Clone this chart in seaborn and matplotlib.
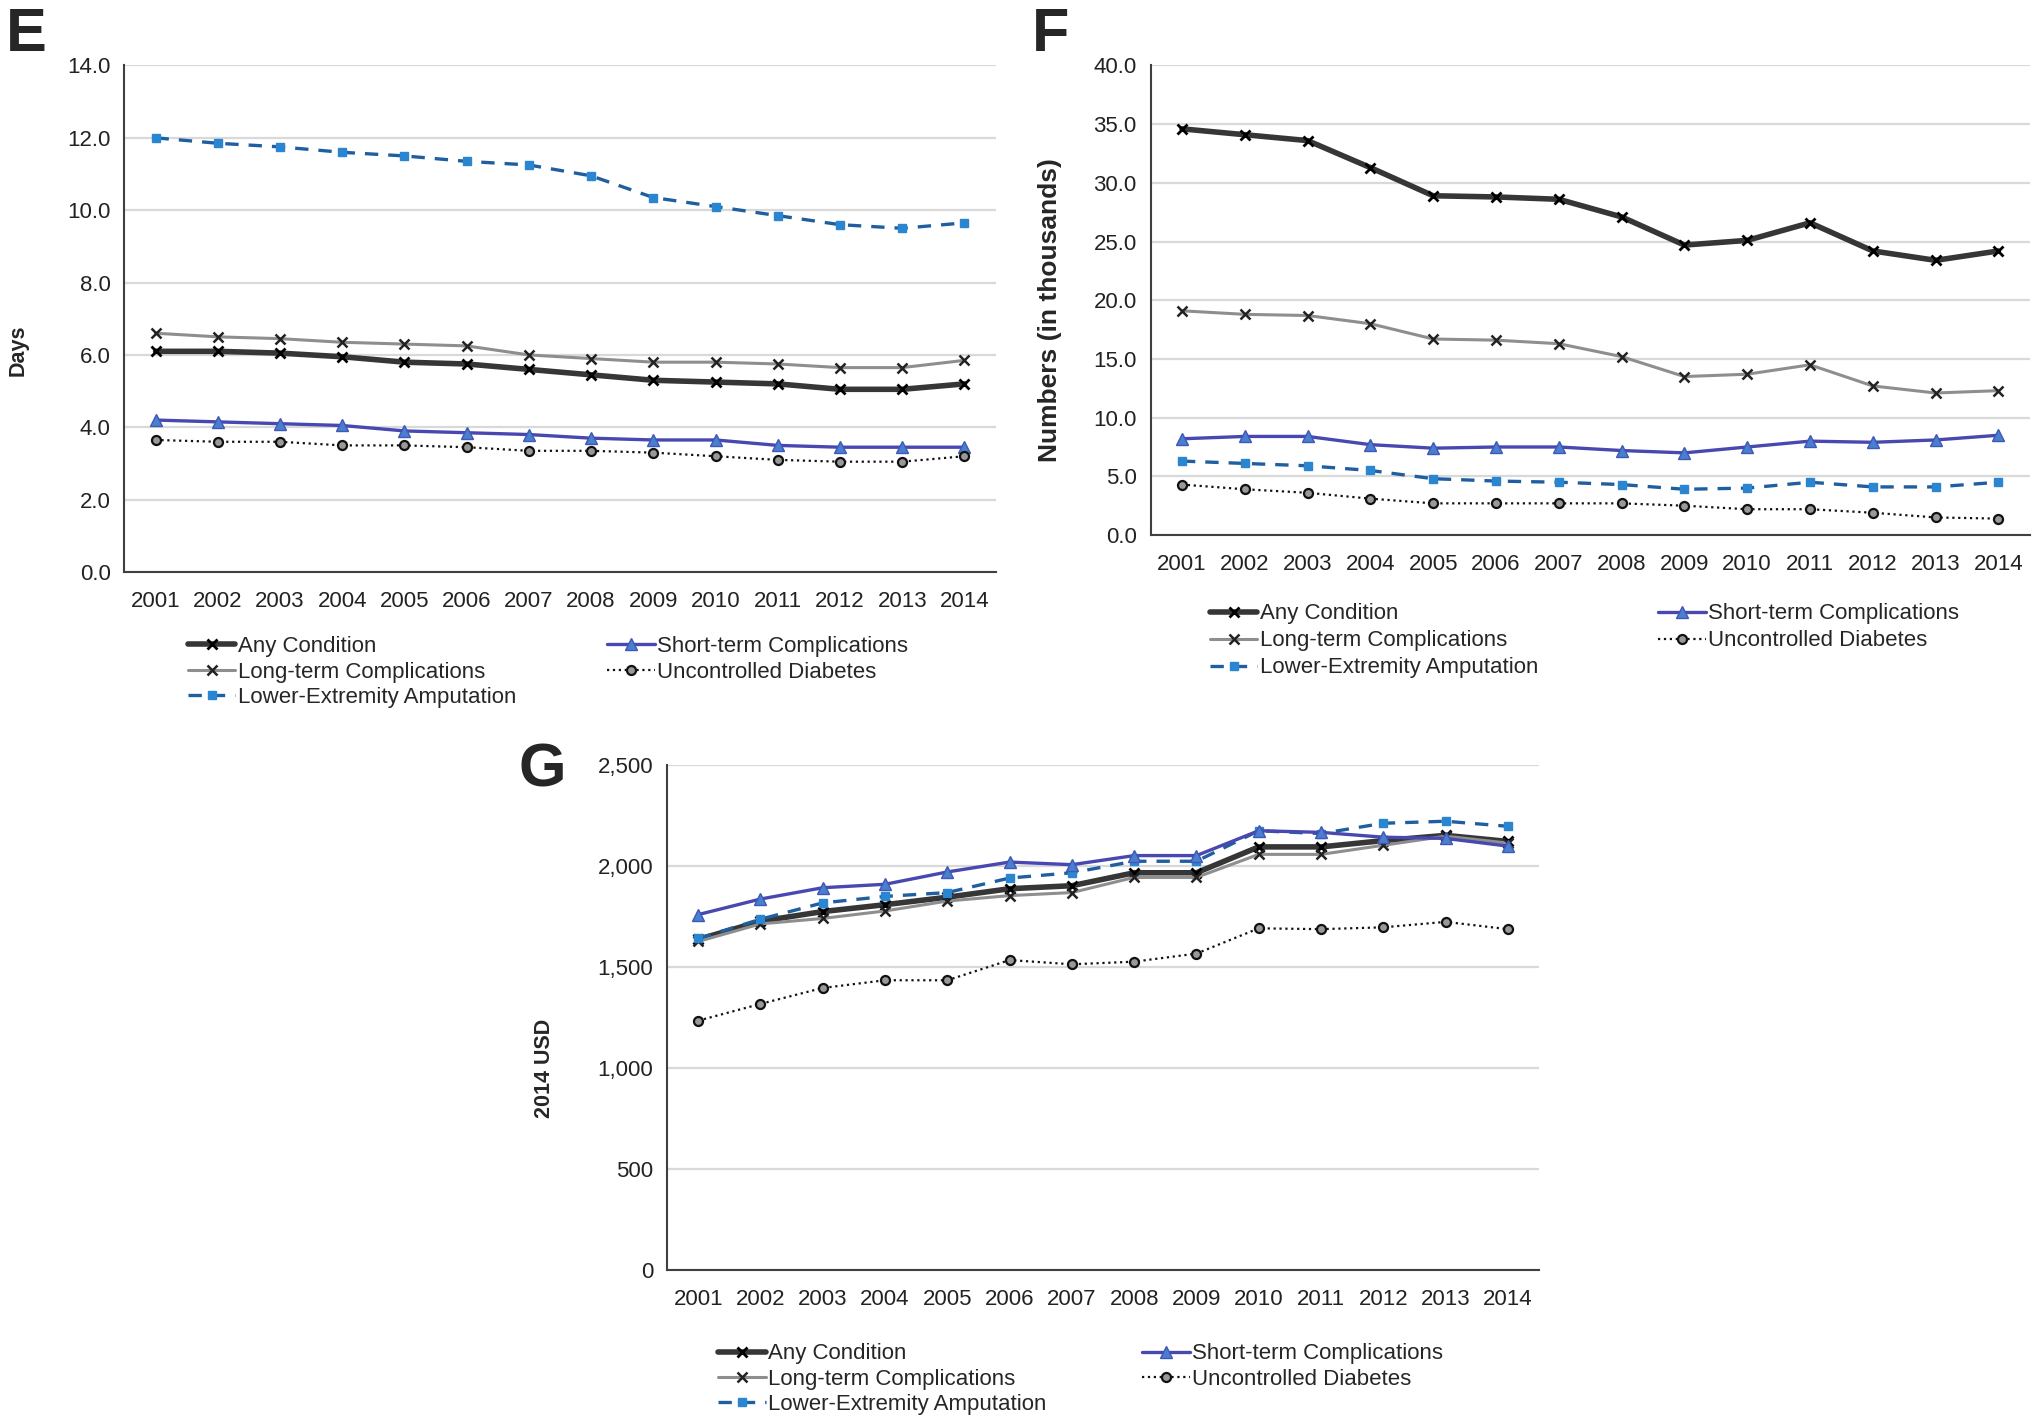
import numpy as np
import pandas as pd
import seaborn as sns
import matplotlib.pyplot as plt
from matplotlib.ticker import FuncFormatter, FixedLocator

sns.set_theme(style="white")
plt.rcParams["font.family"] = ["Liberation Sans", "DejaVu Sans"]

years = [str(y) for y in range(2001, 2015)]
series_names = ["Any Condition", "Long-term Complications", "Lower-Extremity Amputation",
                "Short-term Complications", "Uncontrolled Diabetes"]

# Panel E - length of stay (days)
e_any = [6.1, 6.1, 6.05, 5.95, 5.8, 5.75, 5.6, 5.45, 5.3, 5.25, 5.2, 5.05, 5.05, 5.2]
e_long = [6.6, 6.5, 6.45, 6.35, 6.3, 6.25, 6.0, 5.9, 5.8, 5.8, 5.75, 5.65, 5.65, 5.85]
e_lower = [12.0, 11.85, 11.75, 11.6, 11.5, 11.35, 11.25, 10.95, 10.35, 10.1, 9.85, 9.6, 9.5, 9.65]
e_short = [4.2, 4.15, 4.1, 4.05, 3.9, 3.85, 3.8, 3.7, 3.65, 3.65, 3.5, 3.45, 3.45, 3.45]
e_unc = [3.65, 3.6, 3.6, 3.5, 3.5, 3.45, 3.35, 3.35, 3.3, 3.2, 3.1, 3.05, 3.05, 3.2]

# Panel F - numbers (in thousands)
f_any = [34.6, 34.1, 33.6, 31.3, 28.9, 28.8, 28.6, 27.1, 24.7, 25.1, 26.6, 24.2, 23.4, 24.2]
f_long = [19.1, 18.8, 18.7, 18.0, 16.7, 16.6, 16.3, 15.2, 13.5, 13.7, 14.5, 12.7, 12.1, 12.3]
f_lower = [6.3, 6.1, 5.9, 5.5, 4.8, 4.6, 4.5, 4.3, 3.9, 4.0, 4.5, 4.1, 4.1, 4.5]
f_short = [8.2, 8.4, 8.4, 7.7, 7.4, 7.5, 7.5, 7.2, 7.0, 7.5, 8.0, 7.9, 8.1, 8.5]
f_unc = [4.3, 3.9, 3.6, 3.1, 2.7, 2.7, 2.7, 2.7, 2.5, 2.2, 2.2, 1.9, 1.5, 1.4]

# Panel G - 2014 USD
g_any = [1636, 1726, 1774, 1808, 1845, 1887, 1902, 1966, 1966, 2094, 2094, 2125, 2151, 2121]
g_long = [1626, 1713, 1740, 1777, 1826, 1853, 1868, 1943, 1943, 2057, 2057, 2102, 2147, 2113]
g_lower = [1641, 1736, 1817, 1849, 1868, 1940, 1966, 2023, 2023, 2174, 2160, 2211, 2221, 2196]
g_short = [1759, 1836, 1892, 1909, 1970, 2019, 2006, 2051, 2051, 2174, 2166, 2142, 2136, 2098]
g_unc = [1234, 1317, 1396, 1434, 1434, 1534, 1513, 1526, 1566, 1691, 1687, 1696, 1723, 1687]

styles = {
    "Any Condition": dict(color="#363636", lw=4.0, ls="-", marker="x", ms=6.5, mec="black", mfc="black", mew=2.0),
    "Long-term Complications": dict(color="#8e8e8e", lw=2.2, ls="-", marker="x", ms=6.5, mec="#222222", mfc="black", mew=1.8),
    "Lower-Extremity Amputation": dict(color="#1f5f9f", lw=2.4, ls=(0, (4, 3)), marker="s", ms=6, mec="#2a86d0", mfc="#2a86d0", mew=1),
    "Short-term Complications": dict(color="#4848b0", lw=2.4, ls="-", marker="^", ms=8, mec="#3f57b5", mfc="#4a7fd0", mew=1),
    "Uncontrolled Diabetes": dict(color="#111111", lw=1.6, ls=":", marker="o", ms=6.5, mec="#111111", mfc="#999999", mew=1.6),
}

fig = plt.figure(figsize=(20.4, 14.23), dpi=100)


def draw_panel(rect, data, yticks, fmt, ylabel, ylabel_size, ylabel_xy, legend_xy, colspace, rowspace):
    ax = fig.add_axes(rect)
    df = pd.DataFrame({"year": years * len(data),
                       "value": np.concatenate([data[n] for n in series_names]),
                       "series": np.repeat(series_names, len(years))})
    df["idx"] = np.tile(np.arange(len(years)), len(series_names))
    for name in series_names:
        st = styles[name]
        sub = df[df["series"] == name]
        sns.lineplot(data=sub, x="idx", y="value", ax=ax, color=st["color"], linewidth=st["lw"],
                     linestyle=st["ls"], marker=st["marker"], markersize=st["ms"],
                     markeredgecolor=st["mec"], markerfacecolor=st["mfc"], markeredgewidth=st["mew"],
                     label=name, legend=False)
    ax.set_xlim(-0.5, len(years) - 0.5)
    ax.set_ylim(yticks[0], yticks[-1])
    ax.set_xticks(range(len(years)))
    ax.set_xticklabels(years)
    ax.xaxis.set_minor_locator(FixedLocator(np.arange(-0.5, len(years), 1.0)))
    ax.tick_params(axis="x", which="major", length=0, pad=14, labelsize=16, colors="#222222")
    ax.tick_params(axis="x", which="minor", length=6, width=1.3, color="#404040", direction="out")
    ax.set_yticks(yticks)
    ax.yaxis.set_major_formatter(FuncFormatter(fmt))
    ax.tick_params(axis="y", which="major", length=6, width=1.3, color="#404040", direction="out",
                   labelsize=16, labelcolor="#222222", pad=4)
    ax.grid(axis="y", color="#d9d9d9", linewidth=1.6)
    ax.set_axisbelow(True)
    for s in ["top", "right"]:
        ax.spines[s].set_visible(False)
    for s in ["left", "bottom"]:
        ax.spines[s].set_color("#404040")
        ax.spines[s].set_linewidth(1.5)
    ax.set_xlabel("")
    ax.set_ylabel(ylabel, fontsize=ylabel_size, fontweight="bold")
    ax.yaxis.set_label_coords(*ylabel_xy)
    handles, labels = ax.get_legend_handles_labels()
    ax.legend(handles, labels, loc="upper left", bbox_to_anchor=legend_xy, bbox_transform=fig.transFigure,
              ncol=2, frameon=False, fontsize=16, handlelength=2.15, handletextpad=0.1,
              labelspacing=rowspace, columnspacing=colspace, borderaxespad=0, borderpad=0)
    return ax


dec1 = lambda v, p: f"{v:.1f}"
comma = lambda v, p: f"{v:,.0f}"

draw_panel([0.061, 0.598, 0.427, 0.356],
           {"Any Condition": e_any, "Long-term Complications": e_long,
            "Lower-Extremity Amputation": e_lower, "Short-term Complications": e_short,
            "Uncontrolled Diabetes": e_unc},
           np.arange(0, 14.1, 2), dec1, "Days", 15.5, (-0.110, 0.438), (0.092, 0.553), 4.1, 0.2)

draw_panel([0.564, 0.624, 0.431, 0.330],
           {"Any Condition": f_any, "Long-term Complications": f_long,
            "Lower-Extremity Amputation": f_lower, "Short-term Complications": f_short,
            "Uncontrolled Diabetes": f_unc},
           np.arange(0, 40.1, 5), dec1, "Numbers (in thousands)", 19, (-0.101, 0.479), (0.593, 0.576), 5.4, 0.27)

draw_panel([0.327, 0.1075, 0.4274, 0.355],
           {"Any Condition": g_any, "Long-term Complications": g_long,
            "Lower-Extremity Amputation": g_lower, "Short-term Complications": g_short,
            "Uncontrolled Diabetes": g_unc},
           np.arange(0, 2501, 500), comma, "2014 USD", 15.5, (-0.128, 0.40), (0.352, 0.056), 4.3, 0.2)

for letter, x, y in [("E", 0.003, 0.995), ("F", 0.506, 0.995), ("G", 0.254, 0.478)]:
    fig.text(x, y, letter, fontsize=44, fontweight="bold", va="top", ha="left")

fig.savefig("out.png", dpi=100, facecolor="white")
